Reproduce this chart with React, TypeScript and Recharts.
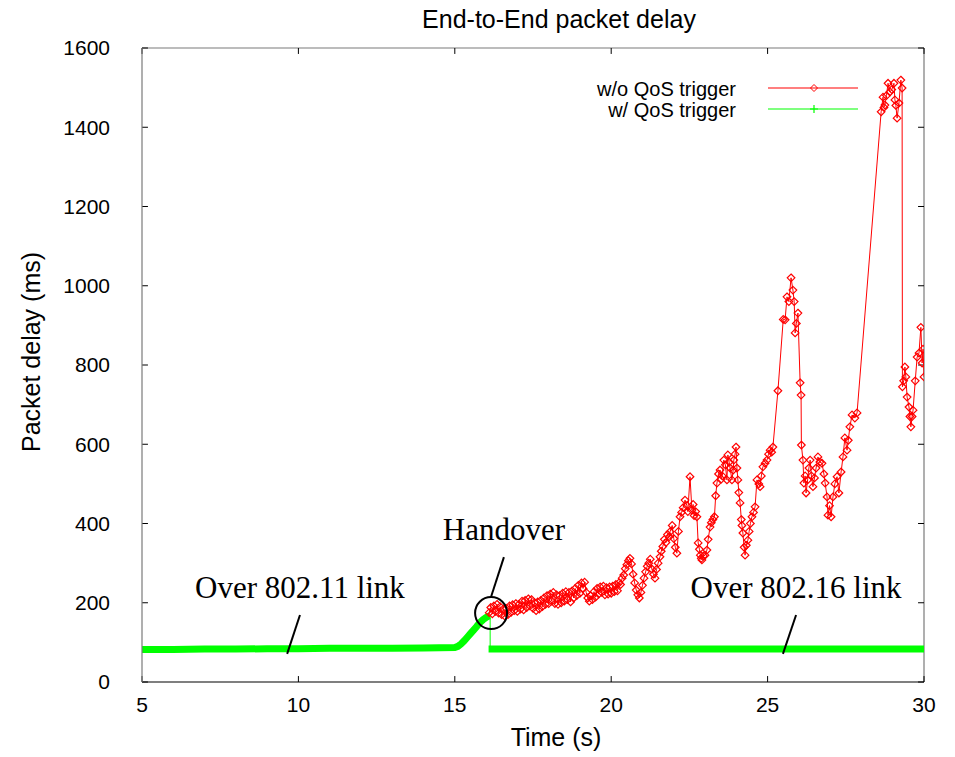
import React from "react";
import {
  LineChart,
  Line,
  XAxis,
  YAxis,
  ReferenceLine,
  ReferenceDot,
} from "recharts";

// time (s), delay (ms)
const redOver80211: [number, number][] = [
  [5.0, 82], [5.25, 81], [5.5, 83], [5.75, 82], [6.0, 81], [6.25, 83], [6.5, 82],
  [6.75, 84], [7.0, 82], [7.25, 81], [7.5, 83], [7.75, 84], [8.0, 82], [8.25, 83],
  [8.5, 85], [8.75, 82], [9.0, 83], [9.25, 84], [9.5, 82], [9.75, 83], [10.0, 85],
  [10.25, 83], [10.5, 84], [10.75, 82], [11.0, 84], [11.25, 85], [11.5, 83],
  [11.75, 84], [12.0, 85], [12.25, 83], [12.5, 84], [12.75, 86], [13.0, 84],
  [13.25, 85], [13.5, 83], [13.75, 85], [14.0, 86], [14.25, 84], [14.5, 85],
  [14.75, 86], [15.0, 87], [15.1, 90], [15.2, 96], [15.3, 104], [15.4, 113],
  [15.5, 122], [15.6, 131], [15.7, 140], [15.8, 150], [15.9, 158], [16.0, 166],
  [16.1, 175],
];

const redAfterHandover: [number, number][] = [
  [16.1, 175], [16.15, 188], [16.2, 172], [16.25, 192], [16.3, 178], [16.35, 196],
  [16.4, 174], [16.45, 190], [16.5, 170], [16.55, 184], [16.6, 166], [16.65, 186],
  [16.7, 170], [16.75, 192], [16.8, 176], [16.85, 195], [16.9, 180], [16.95, 198],
  [17.0, 178], [17.05, 196], [17.1, 184], [17.15, 204], [17.2, 182], [17.25, 206],
  [17.3, 188], [17.35, 210], [17.4, 192], [17.45, 208], [17.5, 186], [17.55, 200],
  [17.6, 180], [17.65, 202], [17.7, 184], [17.75, 206], [17.8, 190], [17.85, 212],
  [17.9, 196], [17.95, 218], [18.0, 198], [18.05, 222], [18.1, 204], [18.15, 226],
  [18.2, 198], [18.25, 220], [18.3, 196], [18.35, 218], [18.4, 200], [18.45, 224],
  [18.5, 204], [18.55, 228], [18.6, 208], [18.65, 226], [18.7, 202], [18.75, 230],
  [18.8, 212], [18.85, 236], [18.9, 218], [18.95, 244], [19.0, 224], [19.05, 250],
  [19.1, 236], [19.15, 252], [19.2, 226], [19.25, 212], [19.3, 204], [19.35, 218],
  [19.4, 208], [19.45, 228], [19.5, 214], [19.55, 236], [19.6, 222], [19.65, 240],
  [19.7, 226], [19.75, 242], [19.8, 220], [19.85, 238], [19.9, 222], [19.95, 240],
  [20.0, 224], [20.05, 242], [20.1, 228], [20.15, 246], [20.2, 230], [20.25, 250],
  [20.3, 246], [20.35, 262], [20.4, 270], [20.45, 286], [20.5, 296], [20.55, 306],
  [20.6, 312], [20.65, 298], [20.7, 272], [20.75, 250], [20.8, 232], [20.85, 220],
  [20.9, 212], [20.95, 226], [21.0, 244], [21.05, 262], [21.1, 278], [21.15, 292],
  [21.2, 300], [21.25, 310], [21.3, 285], [21.35, 272], [21.4, 262], [21.45, 284],
  [21.5, 300], [21.56, 316], [21.6, 330], [21.65, 342], [21.7, 360], [21.75, 352],
  [21.8, 372], [21.85, 366], [21.88, 379], [21.95, 395], [22.0, 362], [22.05, 340],
  [22.1, 325], [22.15, 380], [22.2, 417], [22.25, 428], [22.3, 440], [22.36, 459],
  [22.42, 445], [22.45, 430], [22.52, 518], [22.58, 434], [22.62, 448], [22.65, 420],
  [22.7, 430], [22.74, 417], [22.78, 351], [22.82, 335], [22.85, 320], [22.88, 312],
  [22.9, 308], [22.95, 318], [23.0, 320], [23.06, 333], [23.1, 360], [23.16, 391],
  [23.2, 402], [23.25, 410], [23.3, 417], [23.34, 470], [23.38, 502], [23.43, 525],
  [23.48, 535], [23.52, 512], [23.55, 520], [23.6, 560], [23.65, 548], [23.7, 510],
  [23.73, 573], [23.77, 555], [23.8, 540], [23.86, 510], [23.9, 535], [23.92, 560],
  [23.96, 575], [23.99, 593], [24.02, 540], [24.05, 510], [24.08, 478], [24.12, 452],
  [24.16, 410], [24.18, 395], [24.21, 376], [24.25, 340], [24.28, 320], [24.32, 345],
  [24.37, 358], [24.41, 380], [24.45, 400], [24.5, 417], [24.55, 428], [24.6, 442],
  [24.66, 510], [24.72, 500], [24.76, 493], [24.8, 520], [24.85, 543], [24.92, 552],
  [24.98, 560], [25.03, 575], [25.08, 585], [25.13, 580], [25.17, 593],
];

const redLate: [number, number][] = [
  [25.33, 735], [25.5, 915], [25.56, 914], [25.62, 972], [25.68, 960], [25.75, 1020],
  [25.81, 989], [25.85, 960], [25.88, 881], [25.92, 905], [25.97, 931], [26.04, 755],
  [26.07, 724], [26.08, 598], [26.13, 560], [26.16, 502], [26.2, 520], [26.23, 477],
  [26.28, 510], [26.32, 540], [26.36, 560], [26.4, 520], [26.45, 493], [26.5, 515],
  [26.55, 540], [26.61, 568], [26.67, 555], [26.74, 552], [26.8, 525], [26.84, 502],
  [26.9, 467], [26.93, 421], [26.98, 445], [27.03, 417], [27.09, 467], [27.15, 500],
  [27.22, 518], [27.28, 477], [27.35, 530], [27.41, 568], [27.47, 616], [27.54, 585],
  [27.58, 610], [27.63, 644], [27.7, 674], [27.79, 666], [27.86, 679], [28.63, 1439],
  [28.69, 1476], [28.72, 1450], [28.75, 1456], [28.8, 1480], [28.85, 1511],
  [28.91, 1489], [28.97, 1495], [29.04, 1511], [29.07, 1469], [29.1, 1455],
  [29.14, 1423], [29.2, 1461], [29.26, 1519], [29.3, 1499], [29.31, 745], [29.35, 760],
  [29.39, 795], [29.42, 770], [29.46, 719], [29.52, 694], [29.55, 670], [29.58, 644],
  [29.62, 670], [29.65, 686], [29.72, 760], [29.78, 820], [29.84, 830], [29.9, 895],
  [29.94, 805], [29.97, 840], [30.0, 770],
];

const greenOver80211: [number, number][] = [
  [5.0, 82], [6.0, 82], [7.0, 83], [8.0, 83], [9.0, 84], [10.0, 84], [11.0, 85],
  [12.0, 85], [13.0, 85], [14.0, 86], [15.0, 87], [15.1, 90], [15.2, 96], [15.3, 104],
  [15.4, 113], [15.5, 122], [15.6, 131], [15.7, 140], [15.8, 150], [15.9, 157],
  [16.0, 163], [16.1, 167],
];
const greenSwitch: [number, number][] = [[16.13, 168], [16.13, 83]];
const greenOver80216: [number, number][] = [
  [16.08, 83], [18, 83], [20, 83], [22, 83], [24, 83], [26, 83], [28, 83], [30, 83],
];

const xTicks = [5, 10, 15, 20, 25, 30];
const yTicks = [0, 200, 400, 600, 800, 1000, 1200, 1400, 1600];

const toPoints = (rows: [number, number][]) => rows.map(([t, v]) => ({ t, v }));

const sans = "'Liberation Sans', Arial, Helvetica, sans-serif";
const serif = "'Liberation Serif', 'Times New Roman', serif";
const RED = "#ff0000";
const GREEN = "#00ff00";
const BORDER = "#7a7a7a";

const renderDiamond = (props: any) => {
  const { cx, cy, index } = props;
  if (cx == null || cy == null) return <g key={`dm-${index}`} />;
  const s = 3.8;
  return (
    <path
      key={`dm-${index}`}
      d={`M${cx},${cy - s}L${cx + s},${cy}L${cx},${cy + s}L${cx - s},${cy}Z`}
      fill="none"
      stroke={RED}
      strokeWidth={1.2}
    />
  );
};

const annotationText = (label: string) => (props: any) => (
  <text
    x={props.cx}
    y={props.cy}
    textAnchor="middle"
    fontFamily={serif}
    fontSize={31}
    fill="#000"
  >
    {label}
  </text>
);

export default function App() {
  return (
    <div
      style={{
        position: "absolute",
        left: 0,
        top: 0,
        width: 955,
        height: 757,
        background: "#fff",
      }}
    >
      <LineChart
        width={955}
        height={757}
        margin={{ top: 48, right: 31, bottom: 0, left: 0 }}
      >
        <XAxis
          dataKey="t"
          type="number"
          domain={[5, 30]}
          ticks={xTicks}
          allowDataOverflow
          height={75}
          tickLine={false}
          tickSize={0}
          tickMargin={15}
          axisLine={{ stroke: "#000", strokeWidth: 1.2 }}
          tick={{ fontFamily: sans, fontSize: 21, fill: "#000" }}
        />
        <YAxis
          type="number"
          domain={[0, 1600]}
          ticks={yTicks}
          allowDataOverflow
          width={142}
          tickLine={false}
          tickSize={0}
          tickMargin={32}
          axisLine={{ stroke: BORDER, strokeWidth: 1.2 }}
          tick={{ fontFamily: sans, fontSize: 21, fill: "#000" }}
        />

        <ReferenceLine y={1600} stroke={BORDER} strokeWidth={1.2} />
        <ReferenceLine x={30} stroke={BORDER} strokeWidth={1.2} />
        {xTicks.map((t) => (
          <ReferenceLine
            key={`xb-${t}`}
            segment={[{ x: t, y: 0 }, { x: t, y: 15 }]}
            stroke="#000"
          />
        ))}
        {xTicks.map((t) => (
          <ReferenceLine
            key={`xt-${t}`}
            segment={[{ x: t, y: 1585 }, { x: t, y: 1600 }]}
            stroke="#000"
          />
        ))}
        {yTicks.map((v) => (
          <ReferenceLine
            key={`yl-${v}`}
            segment={[{ x: 5, y: v }, { x: 5.19, y: v }]}
            stroke="#000"
          />
        ))}
        {yTicks.map((v) => (
          <ReferenceLine
            key={`yr-${v}`}
            segment={[{ x: 29.81, y: v }, { x: 30, y: v }]}
            stroke="#000"
          />
        ))}

        {/* red under the green band before handover: line only */}
        <Line
          data={toPoints(redOver80211)}
          dataKey="v"
          stroke={RED}
          strokeWidth={1.5}
          dot={false}
          activeDot={false}
          isAnimationActive={false}
        />
        <Line
          data={toPoints([...redAfterHandover, ...redLate])}
          dataKey="v"
          stroke={RED}
          strokeWidth={1}
          dot={renderDiamond}
          activeDot={false}
          isAnimationActive={false}
        />
        <Line
          data={toPoints(greenOver80211)}
          dataKey="v"
          stroke={GREEN}
          strokeWidth={7}
          dot={false}
          activeDot={false}
          isAnimationActive={false}
        />
        <Line
          data={toPoints(greenSwitch)}
          dataKey="v"
          stroke={GREEN}
          strokeWidth={1}
          dot={false}
          activeDot={false}
          isAnimationActive={false}
        />
        <Line
          data={toPoints(greenOver80216)}
          dataKey="v"
          stroke={GREEN}
          strokeWidth={7}
          dot={false}
          activeDot={false}
          isAnimationActive={false}
        />

        <ReferenceLine
          segment={[{ x: 10.05, y: 169 }, { x: 9.64, y: 71 }]}
          stroke="#000"
          strokeWidth={2}
        />
        <ReferenceLine
          segment={[{ x: 16.57, y: 315 }, { x: 16.16, y: 215 }]}
          stroke="#000"
          strokeWidth={2}
        />
        <ReferenceLine
          segment={[{ x: 25.91, y: 169 }, { x: 25.49, y: 71 }]}
          stroke="#000"
          strokeWidth={2}
        />
        <ReferenceDot
          x={16.16}
          y={174}
          r={16}
          fill="none"
          stroke="#000"
          strokeWidth={2}
        />
        <ReferenceDot x={10.05} y={212} r={0} shape={annotationText("Over 802.11 link")} />
        <ReferenceDot x={16.57} y={358} r={0} shape={annotationText("Handover")} />
        <ReferenceDot x={25.91} y={212} r={0} shape={annotationText("Over 802.16 link")} />
      </LineChart>

      <svg
        width={955}
        height={757}
        style={{ position: "absolute", left: 0, top: 0, pointerEvents: "none" }}
      >
        <text x={559} y={28} textAnchor="middle" fontFamily={sans} fontSize={25} fill="#000">
          End-to-End packet delay
        </text>
        <text
          x={40}
          y={352}
          transform="rotate(-90 40 352)"
          textAnchor="middle"
          fontFamily={sans}
          fontSize={25}
          fill="#000"
        >
          Packet delay (ms)
        </text>
        <text x={556} y={746} textAnchor="middle" fontFamily={sans} fontSize={25} fill="#000">
          Time (s)
        </text>

        <text x={736} y={96} textAnchor="end" fontFamily={sans} fontSize={20} fill="#000">
          w/o QoS trigger
        </text>
        <line x1={768} y1={88} x2={858} y2={88} stroke={RED} strokeWidth={1.2} />
        <path d="M814,84.5L817.5,88L814,91.5L810.5,88Z" fill="none" stroke={RED} />
        <text x={736} y={117} textAnchor="end" fontFamily={sans} fontSize={20} fill="#000">
          w/ QoS trigger
        </text>
        <line x1={768} y1={109} x2={858} y2={109} stroke={GREEN} strokeWidth={1.2} />
        <path d="M810,109L818,109M814,105L814,113" stroke={GREEN} strokeWidth={1.2} />
      </svg>
    </div>
  );
}
